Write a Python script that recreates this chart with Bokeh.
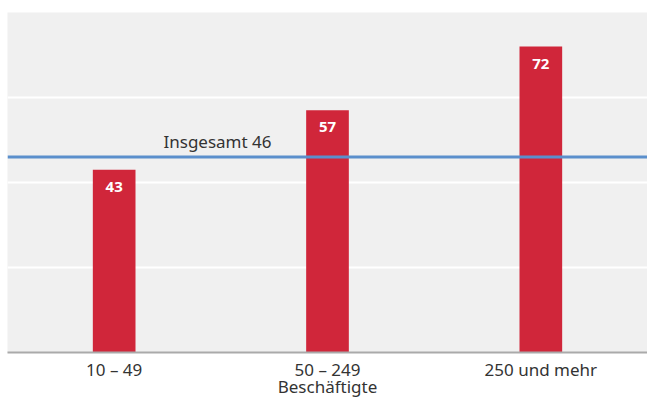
from bokeh.plotting import figure
from bokeh.models import ColumnDataSource, Span, FixedTicker
from bokeh.core.properties import value
from bokeh.embed import file_html
from bokeh.resources import INLINE

categories = ["10 – 49", "50 – 249", "250 und mehr"]
values = [43, 57, 72]
labels = ["43", "57", "72"]
total_value = 46
total_label = "Insgesamt 46"
axis_title = "Beschäftigte"

FONT = "Noto Sans"

src = ColumnDataSource(dict(x=categories, top=values, lab=labels))

p = figure(x_range=categories, y_range=(0, 80), width=647, height=400,
           output_backend="svg", toolbar_location=None,
           min_border_left=7, min_border_right=0, min_border_top=12, min_border_bottom=48)
p.background_fill_color = "#f0f0f0"
p.border_fill_color = "white"
p.outline_line_color = None

p.vbar(x="x", top="top", width=0.2, source=src, color="#d0263a", line_color=None)

p.text(x="x", y="top", text="lab", source=src, text_align="center", text_baseline="alphabetic",
       y_offset=17, text_color="white", text_font=value(FONT), text_font_size="15px",
       text_font_style="bold")

p.add_layout(Span(location=total_value, dimension="width", line_color="#5b8fcc", line_width=3))
p.text(x=[categories[1]], y=[total_value], text=[total_label], text_align="right",
       text_baseline="alphabetic", x_offset=-56, y_offset=-16, text_color="#333333",
       text_font=value(FONT), text_font_size="17px")

p.yaxis.visible = False
p.ygrid.ticker = FixedTicker(ticks=[20, 40, 60])
p.ygrid.grid_line_color = "white"
p.ygrid.grid_line_width = 2
p.xgrid.grid_line_color = None

xa = p.xaxis[0]
xa.axis_line_color = "#aaaaaa"
xa.axis_line_width = 2
xa.major_tick_line_color = None
xa.major_tick_out = 0
xa.major_tick_in = 0
xa.minor_tick_line_color = None
xa.major_label_text_font = FONT
xa.major_label_text_font_size = "17px"
xa.major_label_text_color = "#333333"
xa.major_label_standoff = 5
xa.axis_label = axis_title
xa.axis_label_text_font = FONT
xa.axis_label_text_font_size = "17px"
xa.axis_label_text_font_style = "normal"
xa.axis_label_text_color = "#333333"
xa.axis_label_standoff = -9

open("out.html", "w").write(file_html(p, INLINE))
